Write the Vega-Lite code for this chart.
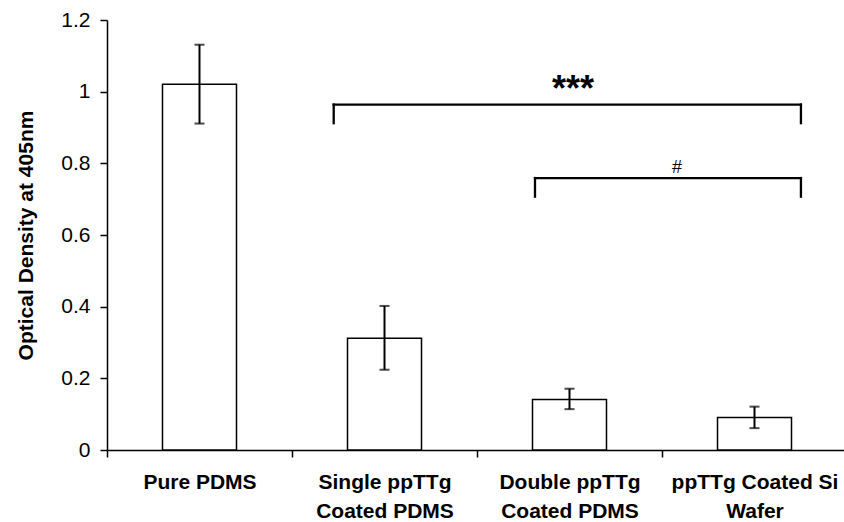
{
  "$schema": "https://vega.github.io/schema/vega-lite/v6.json",
  "width": 740,
  "height": 430,
  "autosize": "none",
  "padding": {"left": 107, "top": 20, "right": 0, "bottom": 72},
  "background": "white",
  "config": {
    "view": {"stroke": null},
    "font": "Liberation Sans",
    "axis": {"grid": false, "domainColor": "black", "tickColor": "black", "labelColor": "black", "titleColor": "black", "domainWidth": 1.5, "tickWidth": 1.5, "tickSize": 7}
  },
  "layer": [
    {
      "data": {
        "values": [
          {"group": "Pure PDMS", "mean": 1.021, "lo": 0.911, "hi": 1.131},
          {"group": "Single ppTTg Coated PDMS", "mean": 0.312, "lo": 0.224, "hi": 0.402},
          {"group": "Double ppTTg Coated PDMS", "mean": 0.141, "lo": 0.114, "hi": 0.171},
          {"group": "ppTTg Coated Si Wafer", "mean": 0.091, "lo": 0.061, "hi": 0.121}
        ]
      },
      "encoding": {
        "x": {
          "field": "group",
          "type": "nominal",
          "sort": null,
          "scale": {"paddingInner": 0, "paddingOuter": 0},
          "axis": {
            "title": null,
            "labelAngle": 0,
            "tickBand": "extent",
            "labelFont": "Liberation Sans",
            "labelFontWeight": "bold",
            "labelFontSize": 21,
            "labelBaseline": "top",
            "labelPadding": 14,
            "labelLineHeight": 29,
            "labelExpr": "datum.label == 'Single ppTTg Coated PDMS' ? ['Single ppTTg', 'Coated PDMS'] : datum.label == 'Double ppTTg Coated PDMS' ? ['Double ppTTg', 'Coated PDMS'] : datum.label == 'ppTTg Coated Si Wafer' ? ['ppTTg Coated Si', 'Wafer'] : datum.label"
          }
        }
      },
      "layer": [
        {
          "mark": {"type": "bar", "fill": "white", "stroke": "black", "strokeWidth": 1.5, "width": {"band": 0.4}},
          "encoding": {
            "y": {
              "field": "mean",
              "type": "quantitative",
              "title": "Optical Density at 405nm",
              "scale": {"domain": [0, 1.2], "nice": false},
              "axis": {
                "values": [0, 0.2, 0.4, 0.6, 0.8, 1, 1.2],
                "format": "~g",
                "labelFontSize": 21,
                "labelPadding": 10,
                "titleFontSize": 21,
                "titleFontWeight": "bold",
                "titlePadding": 24
              }
            }
          }
        },
        {
          "mark": {"type": "rule", "color": "black", "strokeWidth": 2},
          "encoding": {
            "y": {"field": "lo", "type": "quantitative", "title": "Optical Density at 405nm"},
            "y2": {"field": "hi"}
          }
        },
        {
          "mark": {"type": "tick", "color": "black", "size": 10, "thickness": 2, "orient": "horizontal"},
          "encoding": {
            "y": {"field": "lo", "type": "quantitative", "title": "Optical Density at 405nm"}
          }
        },
        {
          "mark": {"type": "tick", "color": "black", "size": 10, "thickness": 2, "orient": "horizontal"},
          "encoding": {
            "y": {"field": "hi", "type": "quantitative", "title": "Optical Density at 405nm"}
          }
        }
      ]
    },
    {
      "layer": [
        {
          "data": {
            "values": [
              {"xa": 1.2254, "xb": 3.751, "ya": 0.964, "yb": 0.964},
              {"xa": 1.2254, "xb": 1.2254, "ya": 0.964, "yb": 0.912},
              {"xa": 3.751, "xb": 3.751, "ya": 0.964, "yb": 0.912},
              {"xa": 2.3135, "xb": 3.751, "ya": 0.759, "yb": 0.759},
              {"xa": 2.3135, "xb": 2.3135, "ya": 0.759, "yb": 0.707},
              {"xa": 3.751, "xb": 3.751, "ya": 0.759, "yb": 0.707}
            ]
          },
          "mark": {"type": "rule", "color": "black", "strokeWidth": 2.3, "strokeCap": "square"},
          "encoding": {
            "x": {"field": "xa", "type": "quantitative", "scale": {"domain": [0, 4], "nice": false, "zero": false}, "axis": null},
            "x2": {"field": "xb"},
            "y": {"field": "ya", "type": "quantitative", "title": "Optical Density at 405nm"},
            "y2": {"field": "yb"}
          }
        },
        {
          "data": {"values": [{"label": "***", "xa": 2.519, "ya": 0.975}]},
          "mark": {"type": "text", "fontSize": 36, "fontWeight": "bold", "baseline": "alphabetic", "align": "center", "color": "black"},
          "encoding": {
            "x": {"field": "xa", "type": "quantitative", "axis": null},
            "y": {"field": "ya", "type": "quantitative", "title": "Optical Density at 405nm"},
            "text": {"field": "label"}
          }
        },
        {
          "data": {"values": [{"label": "#", "xa": 3.081, "ya": 0.772}]},
          "mark": {"type": "text", "fontSize": 18, "baseline": "alphabetic", "align": "center", "color": "black"},
          "encoding": {
            "x": {"field": "xa", "type": "quantitative", "axis": null},
            "y": {"field": "ya", "type": "quantitative", "title": "Optical Density at 405nm"},
            "text": {"field": "label"}
          }
        }
      ]
    }
  ],
  "resolve": {"scale": {"x": "independent"}}
}
